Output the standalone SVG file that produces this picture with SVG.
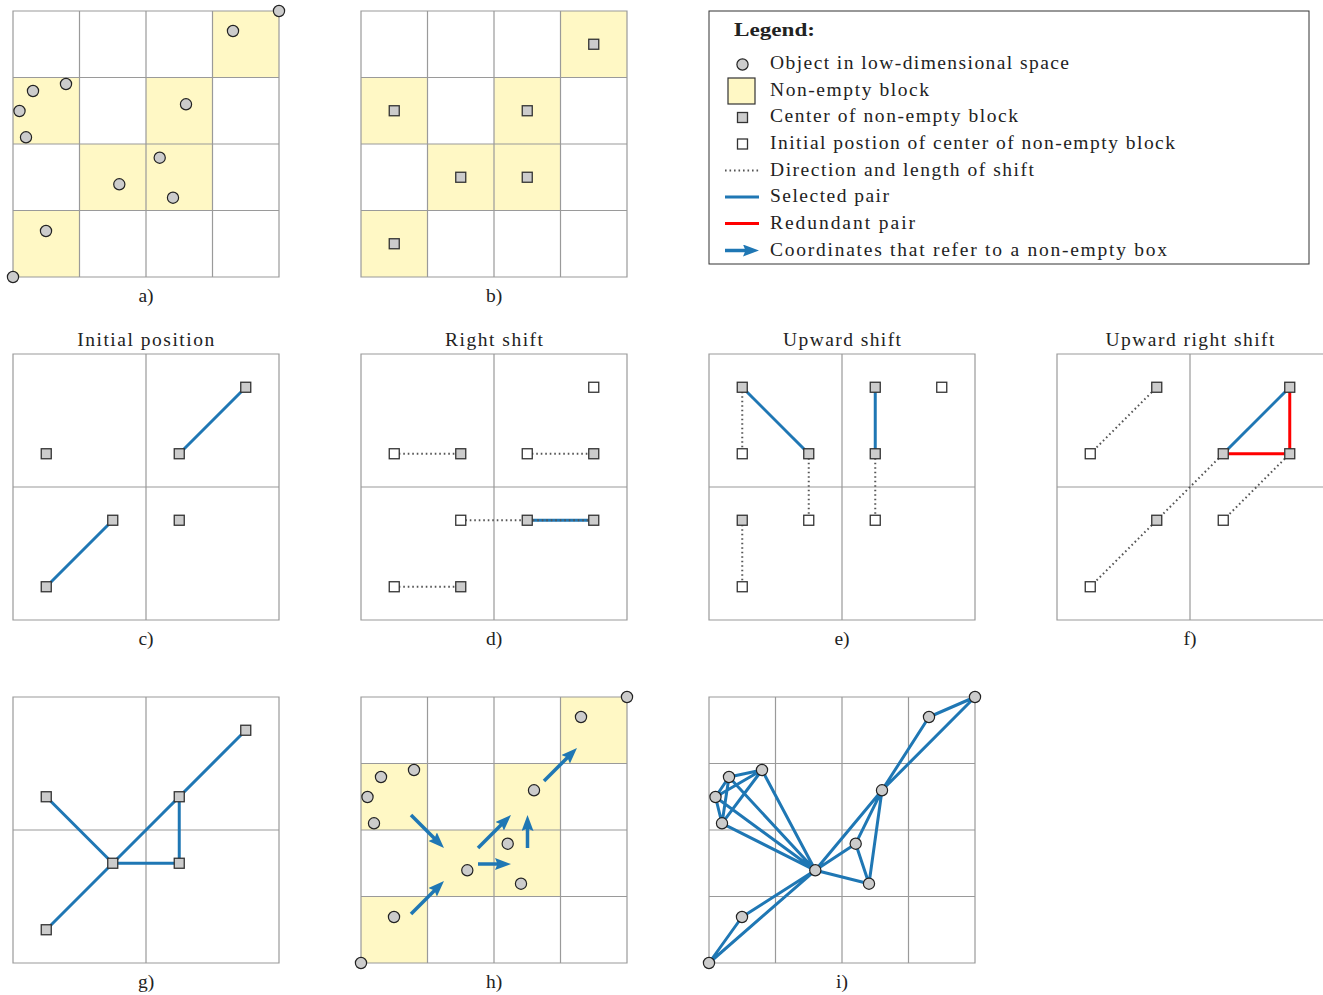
<svg xmlns="http://www.w3.org/2000/svg" xmlns:xlink="http://www.w3.org/1999/xlink" width="1323" height="995" viewBox="0 0 1323 995">
<style>
.grid{fill:none;stroke:#9a9a9a;stroke-width:1.2}
.yel{fill:#fff8c5}
.obj{fill:#cccccc;stroke:#222;stroke-width:1.2}
.ctr{fill:#cccccc;stroke:#333;stroke-width:1.3}
.ini{fill:#ffffff;stroke:#333;stroke-width:1.3}
.sel{stroke:#1f77b4;stroke-width:3;fill:none}
.red{stroke:#ff0000;stroke-width:3;fill:none}
.dot{stroke:#555;stroke-width:2;stroke-dasharray:1.6 2.9;fill:none}
.arr{stroke:#1f77b4;stroke-width:3.5;fill:none;marker-end:url(#ah)}
.t{font-family:"Liberation Serif",serif;font-size:19.5px;fill:#222}
.c{text-anchor:middle}
.b{font-weight:bold}
</style>
<defs>
<marker id="ah" markerUnits="userSpaceOnUse" viewBox="0 0 16 12" refX="4" refY="6" markerWidth="16" markerHeight="12" orient="auto">
<path d="M0,0 L16,6 L0,12 L2.5,6 z" fill="#1f77b4"/>
</marker>
<path id="g4" d="M0,0H266V266H0Z M66.5,0V266 M133,0V266 M199.5,0V266 M0,66.5H266 M0,133H266 M0,199.5H266"/>
<path id="g2" d="M0,0H266V266H0Z M133,0V266 M0,133H266"/>
<g id="yc">
<rect x="199.5" y="0" width="66.5" height="66.5"/>
<rect x="0" y="66.5" width="66.5" height="66.5"/>
<rect x="133" y="66.5" width="66.5" height="66.5"/>
<rect x="66.5" y="133" width="66.5" height="66.5"/>
<rect x="133" y="133" width="66.5" height="66.5"/>
<rect x="0" y="199.5" width="66.5" height="66.5"/>
</g>
<g id="pts">
<circle cx="266" cy="0" r="5.6"/>
<circle cx="220" cy="20" r="5.6"/>
<circle cx="20" cy="80" r="5.6"/>
<circle cx="53" cy="73" r="5.6"/>
<circle cx="6.5" cy="100" r="5.6"/>
<circle cx="13" cy="126.3" r="5.6"/>
<circle cx="173" cy="93.3" r="5.6"/>
<circle cx="146.7" cy="146.7" r="5.6"/>
<circle cx="106.3" cy="173.3" r="5.6"/>
<circle cx="160" cy="186.7" r="5.6"/>
<circle cx="33" cy="220" r="5.6"/>
<circle cx="0" cy="266" r="5.6"/>
</g>
</defs>

<!-- Panel a -->
<g id="panel-a">
<g class="yel"><use href="#yc" x="13" y="11"/></g>
<use href="#g4" x="13" y="11" class="grid"/>
<g class="obj"><use href="#pts" x="13" y="11"/></g>
<text class="t c" x="146" y="302">a)</text>
</g>

<!-- Panel b -->
<g id="panel-b">
<g class="yel"><use href="#yc" x="361" y="11"/></g>
<use href="#g4" x="361" y="11" class="grid"/>
<g class="ctr">
<rect x="588.75" y="39.25" width="10" height="10"/>
<rect x="389.25" y="105.75" width="10" height="10"/>
<rect x="522.25" y="105.75" width="10" height="10"/>
<rect x="455.75" y="172.25" width="10" height="10"/>
<rect x="522.25" y="172.25" width="10" height="10"/>
<rect x="389.25" y="238.75" width="10" height="10"/>
</g>
<text class="t c" x="494" y="302">b)</text>
</g>

<!-- Legend -->
<g id="legend">
<rect x="709" y="11" width="600" height="253" fill="#fff" stroke="#333" stroke-width="1"/>
<text class="t b" x="734" y="36" textLength="81" lengthAdjust="spacingAndGlyphs">Legend:</text>
<circle class="obj" cx="742.5" cy="64.5" r="5.6"/>
<rect x="728" y="78" width="27" height="26" fill="#fff8c5" stroke="#333" stroke-width="1.2"/>
<rect class="ctr" x="737.5" y="112.5" width="10" height="10"/>
<rect class="ini" x="737.5" y="139" width="10" height="10"/>
<line class="dot" x1="725" y1="170.5" x2="759" y2="170.5"/>
<line class="sel" x1="725" y1="197" x2="759" y2="197"/>
<line class="red" x1="725" y1="223.5" x2="759" y2="223.5"/>
<line class="arr" x1="725" y1="250.5" x2="747" y2="250.5"/>
<text class="t" x="770" y="69" textLength="299" lengthAdjust="spacing">Object in low-dimensional space</text>
<text class="t" x="770" y="95.7" textLength="159" lengthAdjust="spacing">Non-empty block</text>
<text class="t" x="770" y="122.3" textLength="248" lengthAdjust="spacing">Center of non-empty block</text>
<text class="t" x="770" y="149" textLength="405" lengthAdjust="spacing">Initial postion of center of non-empty block</text>
<text class="t" x="770" y="175.7" textLength="264" lengthAdjust="spacing">Direction and length of shift</text>
<text class="t" x="770" y="202.3" textLength="119" lengthAdjust="spacing">Selected pair</text>
<text class="t" x="770" y="229" textLength="145" lengthAdjust="spacing">Redundant pair</text>
<text class="t" x="770" y="255.7" textLength="397" lengthAdjust="spacing">Coordinates that refer to a non-empty box</text>
</g>

<!-- Panel c -->
<g id="panel-c">
<text class="t c" x="145.7" y="346" textLength="137" lengthAdjust="spacing">Initial position</text>
<use href="#g2" x="13" y="354" class="grid"/>
<g id="c-connectors">
<line class="sel" x1="179.25" y1="453.75" x2="245.75" y2="387.25"/>
<line class="sel" x1="46.25" y1="586.75" x2="112.75" y2="520.25"/>
</g>
<g class="ctr">
<rect x="41.25" y="448.75" width="10" height="10"/>
<rect x="174.25" y="448.75" width="10" height="10"/>
<rect x="240.75" y="382.25" width="10" height="10"/>
<rect x="107.75" y="515.25" width="10" height="10"/>
<rect x="174.25" y="515.25" width="10" height="10"/>
<rect x="41.25" y="581.75" width="10" height="10"/>
</g>
<text class="t c" x="146" y="645">c)</text>
</g>

<!-- Panel d -->
<g id="panel-d">
<text class="t c" x="494" y="346" textLength="98" lengthAdjust="spacing">Right shift</text>
<use href="#g2" x="361" y="354" class="grid"/>
<g id="d-connectors">
<line class="sel" x1="527.25" y1="520.25" x2="593.75" y2="520.25"/>
<line class="dot" x1="394.25" y1="453.75" x2="460.75" y2="453.75"/>
<line class="dot" x1="527.25" y1="453.75" x2="593.75" y2="453.75"/>
<line class="dot" x1="460.75" y1="520.25" x2="593.75" y2="520.25"/>
<line class="dot" x1="394.25" y1="586.75" x2="460.75" y2="586.75"/>
</g>
<g class="ini">
<rect x="389.25" y="448.75" width="10" height="10"/>
<rect x="522.25" y="448.75" width="10" height="10"/>
<rect x="588.75" y="382.25" width="10" height="10"/>
<rect x="455.75" y="515.25" width="10" height="10"/>
<rect x="389.25" y="581.75" width="10" height="10"/>
</g>
<g class="ctr">
<rect x="455.75" y="448.75" width="10" height="10"/>
<rect x="588.75" y="448.75" width="10" height="10"/>
<rect x="522.25" y="515.25" width="10" height="10"/>
<rect x="588.75" y="515.25" width="10" height="10"/>
<rect x="455.75" y="581.75" width="10" height="10"/>
</g>
<text class="t c" x="494" y="645">d)</text>
</g>

<!-- Panel e -->
<g id="panel-e">
<text class="t c" x="842" y="346" textLength="118" lengthAdjust="spacing">Upward shift</text>
<use href="#g2" x="709" y="354" class="grid"/>
<g id="e-connectors">
<line class="dot" x1="742.25" y1="387.25" x2="742.25" y2="453.75"/>
<line class="dot" x1="808.75" y1="453.75" x2="808.75" y2="520.25"/>
<line class="dot" x1="875.25" y1="453.75" x2="875.25" y2="520.25"/>
<line class="dot" x1="742.25" y1="520.25" x2="742.25" y2="586.75"/>
<line class="sel" x1="742.25" y1="387.25" x2="808.75" y2="453.75"/>
<line class="sel" x1="875.25" y1="387.25" x2="875.25" y2="453.75"/>
</g>
<g class="ini">
<rect x="737.25" y="448.75" width="10" height="10"/>
<rect x="936.75" y="382.25" width="10" height="10"/>
<rect x="803.75" y="515.25" width="10" height="10"/>
<rect x="870.25" y="515.25" width="10" height="10"/>
<rect x="737.25" y="581.75" width="10" height="10"/>
</g>
<g class="ctr">
<rect x="737.25" y="382.25" width="10" height="10"/>
<rect x="870.25" y="382.25" width="10" height="10"/>
<rect x="803.75" y="448.75" width="10" height="10"/>
<rect x="870.25" y="448.75" width="10" height="10"/>
<rect x="737.25" y="515.25" width="10" height="10"/>
</g>
<text class="t c" x="842" y="645">e)</text>
</g>

<!-- Panel f -->
<g id="panel-f">
<text class="t c" x="1190" y="346" textLength="169" lengthAdjust="spacing">Upward right shift</text>
<path class="grid" d="M1324,354H1057V620H1324 M1190,354V620 M1057,487H1324"/>
<g id="f-connectors">
<line class="dot" x1="1090.25" y1="453.75" x2="1156.75" y2="387.25"/>
<line class="dot" x1="1090.25" y1="586.75" x2="1223.25" y2="453.75"/>
<line class="dot" x1="1223.25" y1="520.25" x2="1289.75" y2="453.75"/>
<line class="sel" x1="1223.25" y1="453.75" x2="1289.75" y2="387.25"/>
<line class="red" x1="1223.25" y1="453.75" x2="1289.75" y2="453.75"/>
<line class="red" x1="1289.75" y1="387.25" x2="1289.75" y2="453.75"/>
</g>
<g class="ini">
<rect x="1085.25" y="448.75" width="10" height="10"/>
<rect x="1218.25" y="515.25" width="10" height="10"/>
<rect x="1085.25" y="581.75" width="10" height="10"/>
</g>
<g class="ctr">
<rect x="1151.75" y="382.25" width="10" height="10"/>
<rect x="1284.75" y="382.25" width="10" height="10"/>
<rect x="1218.25" y="448.75" width="10" height="10"/>
<rect x="1284.75" y="448.75" width="10" height="10"/>
<rect x="1151.75" y="515.25" width="10" height="10"/>
</g>
<text class="t c" x="1190" y="645">f)</text>
</g>

<!-- Panel g -->
<g id="panel-g">
<use href="#g2" x="13" y="697" class="grid"/>
<g id="g-connectors">
<line class="sel" x1="46.25" y1="796.75" x2="112.75" y2="863.25"/>
<line class="sel" x1="112.75" y1="863.25" x2="245.75" y2="730.25"/>
<line class="sel" x1="179.25" y1="796.75" x2="179.25" y2="863.25"/>
<line class="sel" x1="112.75" y1="863.25" x2="179.25" y2="863.25"/>
<line class="sel" x1="46.25" y1="929.75" x2="112.75" y2="863.25"/>
</g>
<g class="ctr">
<rect x="41.25" y="791.75" width="10" height="10"/>
<rect x="240.75" y="725.25" width="10" height="10"/>
<rect x="174.25" y="791.75" width="10" height="10"/>
<rect x="107.75" y="858.25" width="10" height="10"/>
<rect x="174.25" y="858.25" width="10" height="10"/>
<rect x="41.25" y="924.75" width="10" height="10"/>
</g>
<text class="t c" x="146" y="988">g)</text>
</g>

<!-- Panel h -->
<g id="panel-h">
<g class="yel"><use href="#yc" x="361" y="697"/></g>
<use href="#g4" x="361" y="697" class="grid"/>
<g class="obj"><use href="#pts" x="361" y="697"/></g>
<g id="h-connectors">
<line class="arr" x1="411" y1="815" x2="435.5" y2="839.5"/>
<line class="arr" x1="411" y1="914" x2="435.5" y2="889.5"/>
<line class="arr" x1="478" y1="848" x2="502.5" y2="823.5"/>
<line class="arr" x1="478" y1="864" x2="499" y2="864"/>
<line class="arr" x1="527.5" y1="848" x2="527.5" y2="827"/>
<line class="arr" x1="544" y1="781" x2="568.5" y2="756.5"/>
</g>
<text class="t c" x="494" y="988">h)</text>
</g>

<!-- Panel i -->
<g id="panel-i">
<use href="#g4" x="709" y="697" class="grid"/>
<g id="i-connectors" class="sel">
<path d="M709,963L742,917 M709,963L815.3,870.3 M742,917L815.3,870.3
M815.3,870.3L882,790.3 M882,790.3L929,717 M882,790.3L975,697 M929,717L975,697
M815.3,870.3L855.7,843.7 M815.3,870.3L869,883.7 M855.7,843.7L869,883.7 M855.7,843.7L882,790.3 M869,883.7L882,790.3
M815.3,870.3L729,777 M815.3,870.3L762,770 M815.3,870.3L715.5,797 M815.3,870.3L722,823.3
M729,777L762,770 M729,777L715.5,797 M729,777L722,823.3 M762,770L715.5,797 M762,770L722,823.3 M715.5,797L722,823.3"/>
</g>
<g class="obj"><use href="#pts" x="709" y="697"/></g>
<text class="t c" x="842" y="988">i)</text>
</g>
</svg>
